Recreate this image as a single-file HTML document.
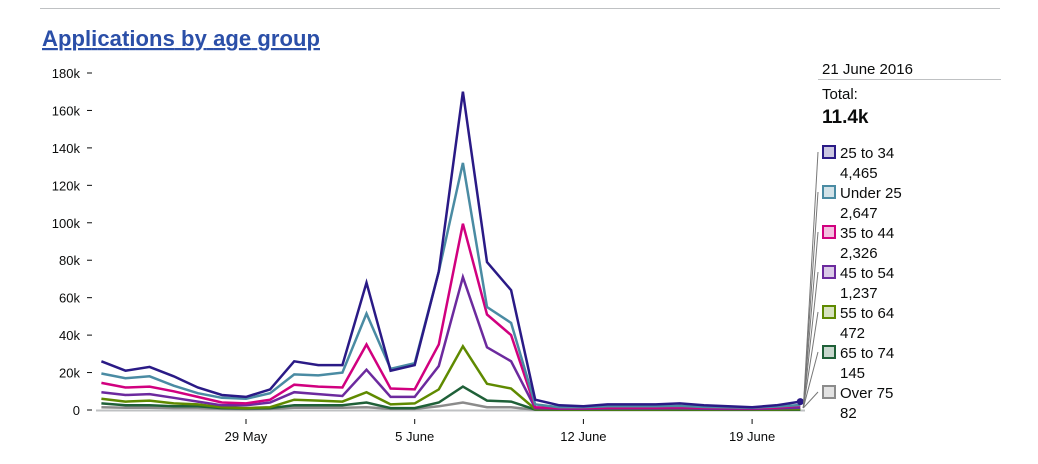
<!DOCTYPE html>
<html><head><meta charset="utf-8"><style>
body{margin:0;background:#fff;width:1038px;height:464px;overflow:hidden;font-family:"Liberation Sans",sans-serif;}
svg{position:absolute;left:0;top:0}
</style></head><body>
<svg id="c" width="1038" height="464">
<line x1="40" y1="8.5" x2="1000" y2="8.5" stroke="#bfc1c3" stroke-width="1"/>
<a href="#"><text x="42" y="46" font-size="22" font-weight="bold" fill="#2b4fa8" text-decoration="underline" textLength="278">Applications by age group</text></a>
<g id="axes"></g>
<g id="lines"></g>
<g id="legend"></g>
</svg>
<script>
const categories = ["23 May","24 May","25 May","26 May","27 May","28 May","29 May","30 May","31 May","1 June","2 June","3 June","4 June","5 June","6 June","7 June","8 June","9 June","10 June","11 June","12 June","13 June","14 June","15 June","16 June","17 June","18 June","19 June","20 June","21 June"];
const seriesNames = ["25 to 34","Under 25","35 to 44","45 to 54","55 to 64","65 to 74","Over 75"];
const seriesColors = ["#2a1a86","#4a8ba3","#d1007f","#6c2a9e","#5f8a00","#1f6038","#8b8b8b"];
const s2534 = [26,21,23,18,12,8,7,11,26,24,24,68,21,24,74,170,79,64,5.5,2.5,2,3,3,3,3.5,2.5,2,1.5,2.5,4.465];
const sUnder25 = [19.5,17,18,13,9,6.5,6,9,19,18.5,20,51.5,22,25,74,132,55,46.5,3,1.5,1.5,2,2,2,2.2,1.6,1.4,1.2,1.8,2.647];
const s3544 = [14.5,12,12.5,10,7,4,3.5,5.5,13.5,12.5,12,35,11.5,11,35,99.5,51,40,1.5,1,1,1.3,1.3,1.3,1.5,1.1,1,0.9,1.3,2.326];
const s4554 = [9.5,8,8.5,6.5,4.5,2.5,2.5,4,9.5,8.5,7.5,21.5,7,7,23.5,71,33.5,26,1,0.7,0.7,0.8,0.8,0.8,0.9,0.7,0.6,0.6,0.8,1.237];
const s5564 = [6,4.5,5,3.5,3,1.5,1,1.5,5.5,5,4.5,9.5,3,3.5,11,34,14,11.5,0.5,0.3,0.3,0.3,0.3,0.3,0.4,0.3,0.3,0.3,0.3,0.472];
const s6574 = [3.5,2.5,2.5,2,2,1,0.8,1,2.5,2.5,2.5,4,1,1,4,12.5,5,4.5,0.2,0.15,0.15,0.15,0.15,0.15,0.15,0.15,0.15,0.15,0.15,0.145];
const sOver75 = [1.5,1.2,1.2,1,1,0.6,0.5,0.6,1.2,1.2,1.2,1.5,0.6,0.6,2,4,1.5,1.5,0.1,0.1,0.1,0.1,0.1,0.1,0.1,0.1,0.1,0.1,0.1,0.082];
const legendValues = ["4,465","2,647","2,326","1,237","472","145","82"];
const yTicks = [0,20,40,60,80,100,120,140,160,180];
const yTickLabels = ["0","20k","40k","60k","80k","100k","120k","140k","160k","180k"];
const xTickIdx = [6,13,20,27];
const xTickLabels = ["29 May","5 June","12 June","19 June"];
const allSeries = [s2534,sUnder25,s3544,s4554,s5564,s6574,sOver75];

const NS="http://www.w3.org/2000/svg";
function xS(i){return 246+(i-6)*24.1;}
function yS(v){return 410-v*1.8722;}
function mk(tag,attrs,parent){const e=document.createElementNS(NS,tag);for(const k in attrs)e.setAttribute(k,attrs[k]);parent.appendChild(e);return e;}
const axes=document.getElementById('axes'),lines=document.getElementById('lines'),legend=document.getElementById('legend');
yTicks.forEach((t,i)=>{
  const tx=mk('text',{x:80,y:yS(t)+5,'text-anchor':'end','font-size':13,fill:'#0b0c0c'},axes);
  
  
  tx.textContent=yTickLabels[i];
  const l=mk('line',{x1:87,x2:92,y1:yS(t),y2:yS(t),stroke:'#0b0c0c','stroke-width':1},axes);
  
  
});
const base=mk('line',{x1:96,x2:805,y1:410.5,y2:410.5,stroke:'#bfc1c3','stroke-width':2},axes);


xTickIdx.forEach((ix,i)=>{
  const l=mk('line',{x1:xS(ix),x2:xS(ix),y1:419,y2:424,stroke:'#0b0c0c','stroke-width':1},axes);
  
  
  const tx=mk('text',{x:xS(ix),y:441,'text-anchor':'middle','font-size':13,fill:'#0b0c0c'},axes);
  
  
  tx.textContent=xTickLabels[i];
});
for(let s=allSeries.length-1;s>=0;s--){
  const d=allSeries[s].map((v,i)=>(i?'L':'M')+xS(i).toFixed(1)+','+yS(v).toFixed(1)).join('');
  const p=mk('path',{d:d,fill:'none',stroke:seriesColors[s],'stroke-width':2.5,'stroke-linejoin':'miter'},lines);
  
  
}
const last=categories.length-1;
const dot=mk('circle',{cx:xS(last),cy:yS(s2534[last]),r:3.5,fill:seriesColors[0]},lines);


const dt=mk('text',{x:822,y:74,'font-size':15,fill:'#0b0c0c'},legend);


dt.textContent='21 June 2016';
const hl=mk('line',{x1:818,x2:1001,y1:79.5,y2:79.5,stroke:'#bfc1c3'},legend);


const tt=mk('text',{x:822,y:99,'font-size':15,fill:'#0b0c0c'},legend);


tt.textContent='Total:';
const tv=mk('text',{x:822,y:123,'font-size':19,'font-weight':'bold',fill:'#0b0c0c'},legend);


tv.textContent='11.4k';
seriesNames.forEach((n,i)=>{
  const by=146+i*40;
  const ll=mk('line',{x1:xS(last)+3,y1:408,x2:818,y2:by+6,stroke:'#777','stroke-width':1},legend);
  
  
  const r=mk('rect',{x:823,y:by,width:12,height:12,fill:seriesColors[i],'fill-opacity':0.25,stroke:seriesColors[i],'stroke-width':2},legend);
  
  
  const t=mk('text',{x:840,y:by+12,'font-size':15,fill:'#0b0c0c'},legend);
  
  
  t.textContent=n;
  const v=mk('text',{x:840,y:by+32,'font-size':15,fill:'#0b0c0c'},legend);
  
  
  v.textContent=legendValues[i];
});
</script>
</body></html>
